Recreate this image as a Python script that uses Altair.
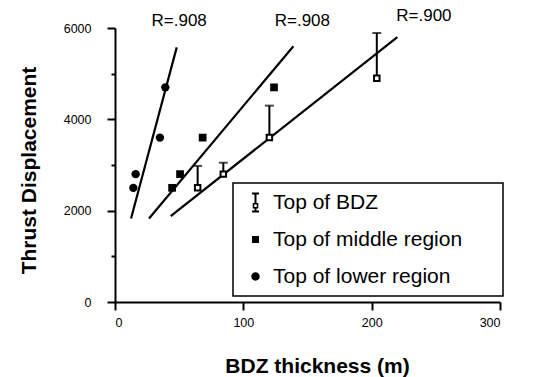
import altair as alt
import pandas as pd

series_names = ["Top of BDZ", "Top of middle region", "Top of lower region"]

bdz_x = [64.4, 84.4, 120.3, 204.0]
bdz_y = [2500, 2800, 3600, 4900]
bdz_top = [2980, 3050, 4300, 5890]

mid_x = [44.5, 50.7, 68.3, 123.9]
mid_y = [2500, 2800, 3600, 4700]

low_x = [14.3, 16.1, 35.0, 39.2]
low_y = [2500, 2800, 3600, 4700]

fit_x0 = [43.4, 26.5, 12.5]
fit_y0 = [1880, 1830, 1830]
fit_x1 = [220.0, 139.0, 48.1]
fit_y1 = [5800, 5600, 5576]

r_labels = ["R=.900", "R=.908", "R=.908"]
r_x = [240.7, 146.0, 50.0]
r_y = [6270, 6160, 6160]

x_ticks = [0, 100, 200, 300]
y_ticks = [0, 1000, 2000, 3000, 4000, 5000, 6000]

FONT = "Liberation Sans"

bdz = pd.DataFrame({"x": bdz_x, "y": bdz_y, "top": bdz_top})
mid = pd.DataFrame({"x": mid_x, "y": mid_y})
low = pd.DataFrame({"x": low_x, "y": low_y})
fits = pd.DataFrame({"x0": fit_x0, "y0": fit_y0, "x1": fit_x1, "y1": fit_y1})
rl = pd.DataFrame({"label": r_labels, "x": r_x, "y": r_y})
allpts = pd.DataFrame({
    "x": bdz_x + mid_x + low_x,
    "y": bdz_y + mid_y + low_y,
    "series": [series_names[0]] * 4 + [series_names[1]] * 4 + [series_names[2]] * 4,
})

xscale = alt.Scale(domain=[0, 300], nice=False, zero=False)
yscale = alt.Scale(domain=[0, 6000], nice=False, zero=False)

xaxis = alt.Axis(
    values=x_ticks, format="d", title="BDZ thickness (m)", grid=False,
    labelFontSize=12.5, labelPadding=6, tickSize=8,
    titleFontSize=21, titleFontWeight="bold", titleX=202, titleY=70,
    titleBaseline="alphabetic",
)
yaxis = alt.Axis(
    values=y_ticks, format="d", grid=False,
    labelExpr="datum.value % 2000 == 0 ? datum.label : ''",
    tickSize={"condition": {"test": "datum.value % 2000 != 0", "value": 4}, "value": 8},
    labelFontSize=12.5, labelPadding=16,
    title="Thrust Displacement", titleFontSize=21, titleFontWeight="bold",
    titleX=-80, titleY=142, titleBaseline="alphabetic",
)

X = alt.X("x:Q", scale=xscale, axis=xaxis)
Y = alt.Y("y:Q", scale=yscale, axis=yaxis)

# legend glyphs (unit-square paths), all filled black
ibeam = ("M-0.35,-1H0.35V-0.8H-0.35Z"
         "M-0.1,-0.8H0.1V0.05H-0.1Z"
         "M-0.28,0.05H0.28V0.6H-0.28Z"
         "M-0.13,0.2V0.45H0.13V0.2Z"
         "M-0.1,0.6H0.1V0.8H-0.1Z"
         "M-0.35,0.8H0.35V1H-0.35Z")
sq = "M-0.35,-0.35H0.35V0.35H-0.35Z"
circ = "M0.42,0A0.42,0.42,0,1,1,-0.42,0A0.42,0.42,0,1,1,0.42,0Z"

legend_layer = alt.Chart(allpts).mark_point(filled=True, color="black", opacity=0).encode(
    x=X, y=Y,
    shape=alt.Shape("series:N", scale=alt.Scale(domain=series_names, range=[ibeam, sq, circ]),
                    legend=alt.Legend(
                        title="____", titleOrient="right", titleColor="transparent",
                        titleFontSize=12, titlePadding=5,
                        orient="none", legendX=118, legendY=155,
                        fillColor="white", strokeColor="black", padding=9,
                        symbolSize=400, symbolOpacity=1, symbolFillColor="black",
                        symbolStrokeWidth=0, symbolOffset=3,
                        labelFont=FONT, labelFontSize=21, labelColor="black",
                        labelOffset=7, rowPadding=15, labelLimit=400,
                    )),
)

fit_layer = alt.Chart(fits).mark_rule(color="black", strokeWidth=2.2).encode(
    x=alt.X("x0:Q", scale=xscale, axis=xaxis), y=alt.Y("y0:Q", scale=yscale, axis=yaxis),
    x2="x1:Q", y2="y1:Q",
)

err_layer = alt.Chart(bdz).mark_rule(color="black", strokeWidth=2).encode(
    x=X, y=Y, y2="top:Q",
)
cap_layer = alt.Chart(bdz).mark_tick(color="black", orient="horizontal", size=9, thickness=2).encode(
    x=X, y=alt.Y("top:Q", scale=yscale, axis=yaxis),
)

bdz_pts = alt.Chart(bdz).mark_point(shape="square", size=30, filled=True, fill="white",
                                    stroke="black", strokeWidth=2, opacity=1).encode(x=X, y=Y)
mid_pts = alt.Chart(mid).mark_point(shape="square", size=60, filled=True, color="black",
                                    opacity=1).encode(x=X, y=Y)
low_pts = alt.Chart(low).mark_point(shape="circle", size=70, filled=True, color="black",
                                    opacity=1).encode(x=X, y=Y)

r_layer = alt.Chart(rl).mark_text(font=FONT, fontSize=17, color="black", align="center",
                                  baseline="middle").encode(x=X, y=Y, text="label:N")

chart = alt.layer(
    legend_layer, fit_layer, err_layer, cap_layer, bdz_pts, mid_pts, low_pts, r_layer
).properties(
    width=385, height=274,
    autosize=alt.AutoSizeParams(type="none"),
    padding={"left": 115, "top": 28, "right": 36, "bottom": 75},
).configure_view(stroke=None).configure_axis(
    domainColor="black", domainWidth=2, tickColor="black", tickWidth=2,
    labelColor="black", titleColor="black", labelFont=FONT, titleFont=FONT,
).configure_legend(strokeWidth=1.5)

chart.save("out.html", embed_options={"renderer": "svg", "actions": False})
